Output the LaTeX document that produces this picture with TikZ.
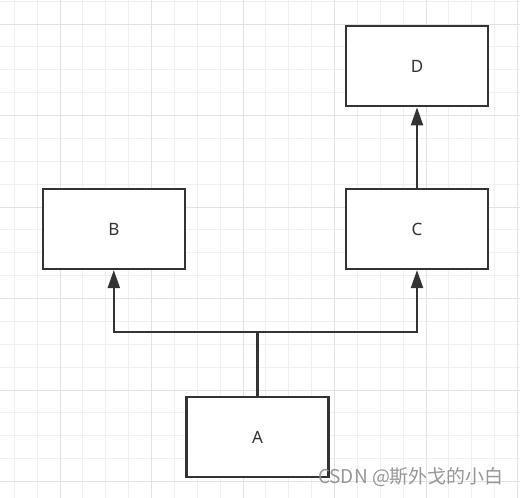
\documentclass[tikz,border=0pt]{standalone}
\usepackage{fontspec}
\setsansfont{Noto Sans}
\newfontfamily\cjkfont{Noto Sans CJK SC}
\usetikzlibrary{positioning,arrows.meta}

\definecolor{inkgray}{HTML}{333333}
\definecolor{gridminor}{HTML}{F0F0F0}
\definecolor{gridmajor}{HTML}{E2E2E2}

\tikzset{
	box/.style={draw=inkgray,line width=2.2pt,fill=white,minimum width=142pt,
		minimum height=80pt,inner sep=0pt,font=\sffamily\fontsize{17}{17}\selectfont,text=inkgray},
	link/.style={draw=inkgray,line width=2.2pt,-{Triangle[length=18pt,width=12pt]}}
}

\begin{document}
\begin{tikzpicture}[x=1pt,y=-1pt]
	\useasboundingbox (0,0) rectangle (520,498);
	\fill[white] (0,0) rectangle (520,498);

	% background grid
	\foreach \k in {0,...,22}
		\draw[gridminor,line width=1pt] (14.25+22.875*\k,0) -- (14.25+22.875*\k,498);
	\foreach \k in {0,...,21}
		\draw[gridminor,line width=1pt] (0,1.125+22.875*\k) -- (520,1.125+22.875*\k);
	\foreach \k in {0,...,5}
		\draw[gridmajor,line width=1pt] (60+91.5*\k,0) -- (60+91.5*\k,498);
	\foreach \k in {0,...,5}
		\draw[gridmajor,line width=1pt] (0,24+91.5*\k) -- (520,24+91.5*\k);

	% boxes
	\node[box] (A) at (257.5,437) {A};
	\node[box] (C) at (417,229) {C};
	\node[box,above=80.5pt of C] (D) {D};
	\node[box,left=159pt of C] (B) {B};

	% connectors
	\draw[inkgray,line width=2.2pt] (A.north) -- ++(0,-64) coordinate (fork);
	\draw[link] (fork) -| (B);
	\draw[link] (fork) -| (C);
	\draw[link] (C) -- (D);

	% watermark
	\node[text=gray!90,opacity=0.9,font=\cjkfont\fontsize{19}{19}\selectfont] (mark) at (411,477) {CSDN @斯外戈的小白};
\end{tikzpicture}
\end{document}
